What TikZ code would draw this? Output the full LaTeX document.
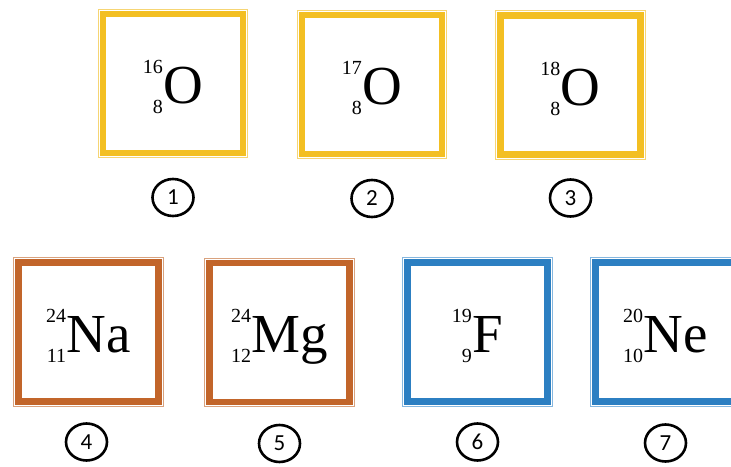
\documentclass[tikz,border=0pt]{standalone}
\usepackage{fontspec}
\setmainfont{Liberation Serif}
\newfontfamily\carlito{Carlito}
\usetikzlibrary{shapes.geometric}
\definecolor{gold}{HTML}{F3BF22}
\definecolor{goldl}{HTML}{F6D574}
\definecolor{rust}{HTML}{C2652A}
\definecolor{rustl}{HTML}{D9A27E}
\definecolor{sky}{HTML}{2C7FC2}
\definecolor{skyl}{HTML}{86B7DF}
\newcommand\nuc[3]{%
  \setbox0\hbox{\fontsize{20}{20}\selectfont #1}%
  \setbox2\hbox{\fontsize{20}{20}\selectfont #2}%
  \dimen0=\wd0 \ifdim\wd2>\dimen0 \dimen0=\wd2 \fi
  \rlap{\hbox to\dimen0{\hfil\raise30pt\box0}}%
  \hbox to\dimen0{\hfil\lower10pt\box2}%
  \kern0.5pt #3}
\tikzset{
  frame/.style={draw=#1, line width=6.5pt, minimum width=140pt, minimum height=139pt,
    inner sep=0pt, outer sep=0pt, fill=white},
  rim/.style={draw=#1, line width=1.2pt},
  elem/.style={font=\fontsize{55}{55}\selectfont, anchor=base, inner sep=0pt},
  num/.style={draw, line width=2.6pt, ellipse, minimum width=41pt, minimum height=37pt,
    inner sep=0pt, font=\carlito\fontsize{23}{23}\selectfont}
}
\begin{document}
\begin{tikzpicture}[x=1pt,y=1pt]
\clip (0,0) rectangle (731,-466);
\fill[white] (0,0) rectangle (731,-466);
% boxes
\node[frame=gold] (b1) at (173,-83.5) {};
\node[frame=gold] (b2) at (372,-84.5) {};
\node[frame=gold] (b3) at (570.5,-85) {};
\node[frame=rust] (b4) at (88.5,-332) {};
\node[frame=rust] (b5) at (279.5,-332.5) {};
\node[frame=sky]  (b6) at (477.5,-332) {};
\node[frame=sky]  (b7) at (665.5,-332) {};
\foreach \b/\c in {b1/goldl,b2/goldl,b3/goldl,b4/rustl,b5/rustl,b6/skyl,b7/skyl}
  \draw[rim=\c] ([shift={(-4.85pt,4.85pt)}]\b.north west) rectangle ([shift={(4.85pt,-4.85pt)}]\b.south east);
% element symbols
\node[elem] (e1) at ([yshift=-20pt]b1.center) {\nuc{16}{8}{O}};
\node[elem] (e2) at ([yshift=-20pt]b2.center) {\nuc{17}{8}{O}};
\node[elem] (e3) at ([yshift=-20pt]b3.center) {\nuc{18}{8}{O}};
\node[elem] (e4) at ([yshift=-20pt]b4.center) {\nuc{24}{11}{Na}};
\node[elem] (e5) at ([yshift=-20pt]b5.center) {\nuc{24}{12}{Mg}};
\node[elem] (e6) at ([yshift=-20pt]b6.center) {\nuc{19}{9}{F}};
\node[elem] (e7) at ([yshift=-20pt]b7.center) {\nuc{20}{10}{Ne}};
% numbered labels
\node[num] (c1) at ([yshift=-114pt]b1.center) {1};
\node[num] (c2) at ([yshift=-114pt]b2.center) {2};
\node[num] (c3) at ([yshift=-113pt]b3.center) {3};
\node[num] (c4) at ([xshift=-2pt,yshift=-110pt]b4.center) {4};
\node[num] (c5) at ([yshift=-111pt]b5.center) {5};
\node[num] (c6) at ([yshift=-110pt]b6.center) {6};
\node[num] (c7) at ([yshift=-111pt]b7.center) {7};
\end{tikzpicture}
\end{document}
